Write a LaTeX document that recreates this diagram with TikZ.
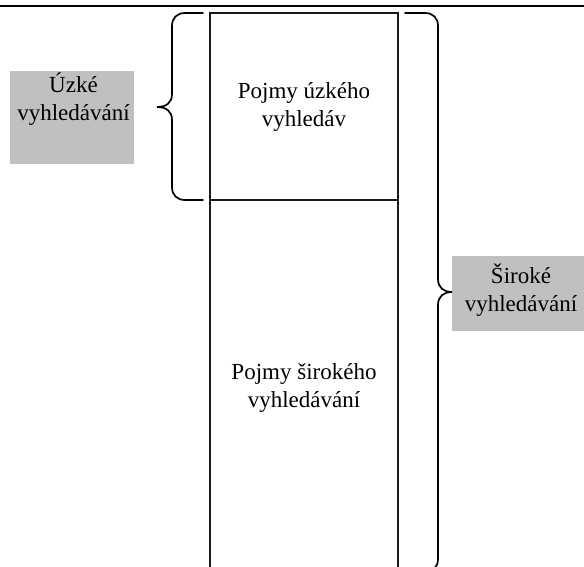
\documentclass[tikz,border=0pt]{standalone}
\usepackage{fontspec}
\setmainfont{Liberation Serif}
\definecolor{boxgrey}{RGB}{192,192,192}
\tikzset{
  cell/.style={draw=black!90, line width=1.2pt, minimum width=188pt, inner sep=0pt, align=center, font=\fontsize{23}{28}\selectfont},
  greybox/.style={fill=boxgrey, inner sep=0pt},
  boxtext/.style={align=center, inner sep=0pt, font=\fontsize{23}{28}\selectfont},
  brace/.style={line width=1.7pt, line cap=round}
}

\begin{document}
\begin{tikzpicture}[x=1pt,y=-1pt]
\useasboundingbox (0,0) rectangle (584,566);
\draw[line width=2pt] (0,6) -- (584,6);

\node[cell, minimum height=187pt] (narrow) at (304,106.5) {Pojmy úzkého\\vyhledáv};
\node[cell, minimum height=375pt] (broad) at (304,387.5) {Pojmy širokého\\vyhledávání};

\node[greybox, minimum width=124pt, minimum height=93pt] (narrowbox) at (72,117.5) {};
\node[boxtext] (narrowlbl) at (73.5,99.5) {Úzké\\vyhledávání};
\node[greybox, minimum width=148pt, minimum height=75pt] (broadbox) at (526,293.5) {};
\node[boxtext] (broadlbl) at (521,290) {Široké\\vyhledávání};

\draw[brace] (203,13) -- (185,13) .. controls (177,13) and (172,18) .. (172,26)
  -- (172,94) .. controls (172,103) and (166,107) .. (157,107)
  .. controls (166,107) and (172,111) .. (172,120)
  -- (172,187) .. controls (172,195) and (177,200) .. (185,200) -- (203,200);
\draw[brace] (405,13) -- (425,13) .. controls (433,13) and (438,18) .. (438,26)
  -- (438,279) .. controls (438,288) and (444,292) .. (452,292)
  .. controls (444,292) and (438,296) .. (438,305)
  -- (438,559) .. controls (438,567) and (433,572) .. (425,572) -- (405,572);
\end{tikzpicture}
\end{document}
